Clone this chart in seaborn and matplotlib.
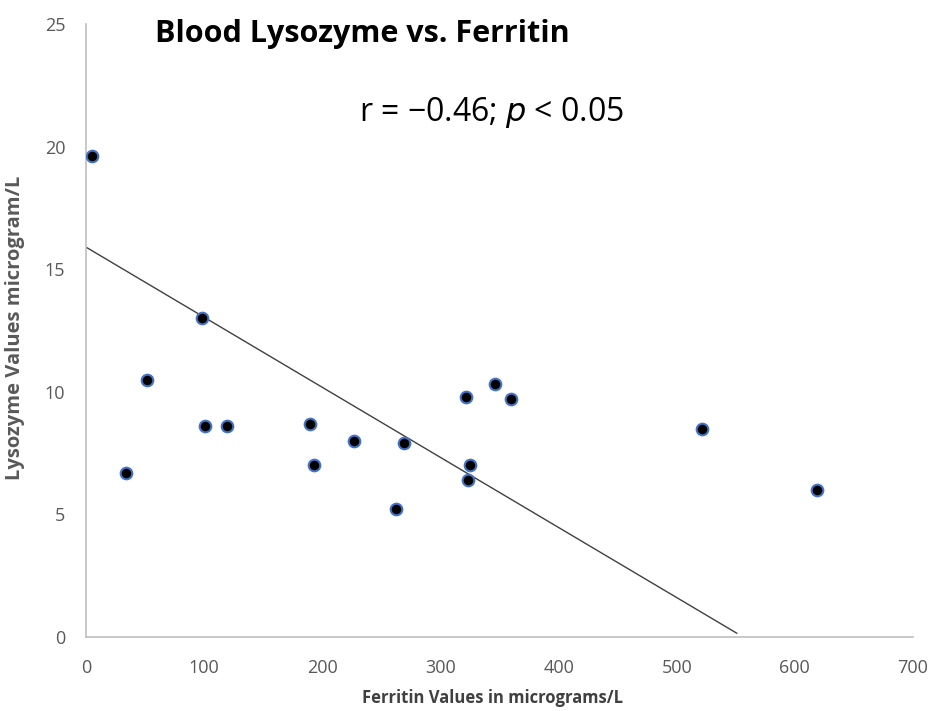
import matplotlib
matplotlib.use("Agg")
import matplotlib.pyplot as plt
import seaborn as sns
import pandas as pd

ferritin = [5, 34, 52, 98, 101, 119, 190, 193, 227, 262, 269, 322, 323, 325, 346, 360, 521, 619]
lysozyme = [19.6, 6.7, 10.5, 13.0, 8.6, 8.6, 8.7, 7.0, 8.0, 5.2, 7.9, 9.8, 6.4, 7.0, 10.3, 9.7, 8.5, 6.0]
trend_x = [0, 551]
trend_y = [15.9, 0.15]
x_ticks = [0, 100, 200, 300, 400, 500, 600, 700]
y_ticks = [0, 5, 10, 15, 20, 25]

df = pd.DataFrame({"Ferritin": ferritin, "Lysozyme": lysozyme})

sns.set_style("white")
plt.rcParams["font.family"] = ["Open Sans", "DejaVu Sans"]

fig = plt.figure(figsize=(9.32, 7.11), dpi=100)
ax = fig.add_axes([86 / 932, 74 / 711, 827 / 932, 613 / 711])

ax.plot(trend_x, trend_y, color="#404040", lw=1.0, zorder=2)
sns.scatterplot(data=df, x="Ferritin", y="Lysozyme", ax=ax, color="black",
                edgecolor="#4472c4", linewidth=1.5, s=70, zorder=3)

ax.set_xlim(0, 700)
ax.set_ylim(0, 25)
ax.set_xticks(x_ticks)
ax.set_yticks(y_ticks)
ax.tick_params(axis="x", length=0, labelsize=13, labelcolor="#595959", pad=16)
ax.tick_params(axis="y", length=0, labelsize=13, labelcolor="#595959", pad=15)
for s in ["top", "right"]:
    ax.spines[s].set_visible(False)
for s in ["left", "bottom"]:
    ax.spines[s].set_color("#bfbfbf")
    ax.spines[s].set_linewidth(1.2)

ax.set_xlabel("Ferritin Values in micrograms/L", fontsize=12, fontweight="bold",
              color="#404040")
ax.xaxis.set_label_coords((492 - 86) / 827, -(698 - 637 - 9) / 613)
ax.set_ylabel("Lysozyme Values microgram/L", fontsize=14.5, fontweight="bold",
              color="#595959")
ax.yaxis.set_label_coords(-(86 - 25) / 827, 0.505)

fig.text(155 / 932, 1 - 34 / 711, "Blood Lysozyme vs. Ferritin", fontsize=22,
         fontweight="bold", ha="left", va="center", color="black")
fig.text(491 / 932, 1 - 112 / 711, r"r = −0.46; $\mathit{p}$ < 0.05", fontsize=23,
         ha="center", va="center", color="black")

fig.savefig("out.png", dpi=100)
